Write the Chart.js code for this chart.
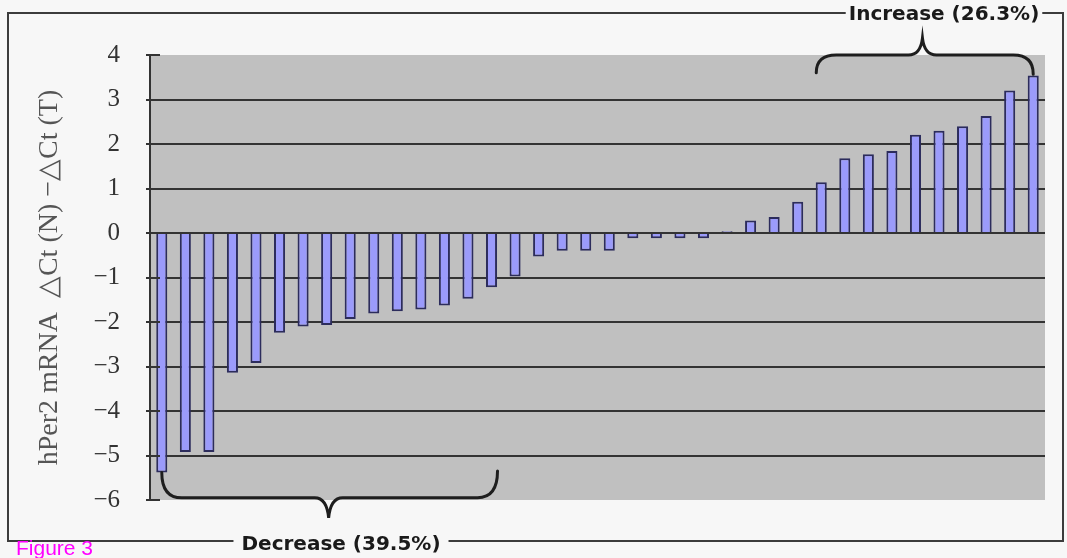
<!DOCTYPE html>
<html>
<head>
<meta charset="utf-8">
<script src="https://cdn.jsdelivr.net/npm/chart.js@4.4.1/dist/chart.umd.min.js"></script>
<style>
  html, body { margin: 0; padding: 0; background: #f7f7f7; }
  #wrap { width: 1067px; height: 558px; }
</style>
</head>
<body>
<div id="wrap"><canvas id="chart"></canvas></div>
<script>
// Sample index (sorted by change)
const samples = Array.from({ length: 38 }, (_, i) => String(i + 1));

// dCt(N) - dCt(T) per sample
const deltaCt = [
  -5.38, -4.92, -4.92, -3.14, -2.92, -2.24, -2.1, -2.07, -1.93, -1.81,
  -1.76, -1.72, -1.63, -1.48, -1.22, -0.98, -0.53, -0.4, -0.4, -0.4,
  -0.12, -0.12, -0.12, -0.12, 0.04, 0.28, 0.36, 0.7, 1.14, 1.68,
  1.77, 1.84, 2.21, 2.3, 2.4, 2.63, 3.2, 3.54,
];

// Axis range / ticks
const yMin = -6;
const yMax = 4;

// Annotation texts
const axisTitle = "hPer2 mRNA  \u25B3Ct (N) \u2212\u25B3Ct (T)";
const increaseLabel = "Increase (26.3%)";
const decreaseLabel = "Decrease (39.5%)";
const figureLabel = "Figure 3";

// Grey plot background
const plotBackground = {
  id: "plotBackground",
  beforeDraw(chart) {
    const { ctx, chartArea } = chart;
    ctx.save();
    ctx.fillStyle = "#c0c0c0";
    ctx.fillRect(chartArea.left, chartArea.top, chartArea.width, chartArea.height);
    ctx.restore();
  },
};

// Draw a curly brace, ends at y1/y2, bar at yLine, point at tip
function drawBrace(ctx, x1, y1, x2, y2, yLine, tipX, tipY) {
  const r = 20;
  ctx.beginPath();
  ctx.moveTo(x1, y1);
  ctx.quadraticCurveTo(x1, yLine, x1 + r, yLine);
  ctx.lineTo(tipX - 14, yLine);
  ctx.quadraticCurveTo(tipX - 2, yLine, tipX, tipY);
  ctx.quadraticCurveTo(tipX + 2, yLine, tipX + 14, yLine);
  ctx.lineTo(x2 - r, yLine);
  ctx.quadraticCurveTo(x2, yLine, x2, y2);
  ctx.stroke();
}

// Frame, braces, inward ticks and labels
const decorations = {
  id: "decorations",
  afterDatasetsDraw(chart) {
    const { ctx, chartArea } = chart;
    const y = chart.scales.y;
    ctx.save();
    ctx.strokeStyle = "#333";
    ctx.lineWidth = 2;
    y.ticks.forEach((t) => {
      const py = Math.round(y.getPixelForValue(t.value));
      ctx.beginPath();
      ctx.moveTo(chartArea.left - 4, py);
      ctx.lineTo(chartArea.left + 10, py);
      ctx.stroke();
    });
    ctx.restore();
  },
  afterDraw(chart) {
    const { ctx } = chart;
    const x = chart.scales.x;
    const y = chart.scales.y;
    ctx.save();

    // braces
    ctx.strokeStyle = "#1e1e1e";
    ctx.lineWidth = 3;
    ctx.lineCap = "round";
    drawBrace(
      ctx,
      x.getPixelForValue(0), y.getPixelForValue(-5.38),
      x.getPixelForValue(14) + 6, y.getPixelForValue(-5.35),
      y.getPixelForValue(-5.95),
      x.getPixelForValue(7) + 2, y.getPixelForValue(-6.4)
    );
    drawBrace(
      ctx,
      x.getPixelForValue(28) - 5, y.getPixelForValue(3.6),
      x.getPixelForValue(37), y.getPixelForValue(3.57),
      y.getPixelForValue(4.0),
      x.getPixelForValue(32) + 7, y.getPixelForValue(4.38)
    );

    // labels
    ctx.font = "bold 20px 'DejaVu Sans'";
    ctx.fillStyle = "#1a1a1a";
    ctx.textBaseline = "middle";
    ctx.textAlign = "center";
    const incX = 944, incY = 15;
    const decX = 341, decY = 545;
    ctx.fillText(increaseLabel, incX, incY);
    ctx.fillText(decreaseLabel, decX, decY);
    const incW = ctx.measureText(increaseLabel).width / 2 + 3;
    const decW = ctx.measureText(decreaseLabel).width / 2 + 8;

    // outer frame with gaps for labels
    ctx.strokeStyle = "#3c3c3c";
    ctx.lineWidth = 2;
    ctx.lineCap = "butt";
    ctx.beginPath();
    ctx.moveTo(incX - incW, 13);
    ctx.lineTo(8, 13);
    ctx.lineTo(8, 541);
    ctx.lineTo(decX - decW, 541);
    ctx.moveTo(decX + decW, 541);
    ctx.lineTo(1063, 541);
    ctx.lineTo(1063, 13);
    ctx.lineTo(incX + incW, 13);
    ctx.stroke();

    ctx.font = "21px 'Liberation Sans'";
    ctx.fillStyle = "#ff00ff";
    ctx.textAlign = "left";
    ctx.textBaseline = "alphabetic";
    ctx.fillText(figureLabel, 16, 555);
    ctx.restore();
  },
};

new Chart(document.getElementById("chart"), {
  type: "bar",
  data: {
    labels: samples,
    datasets: [
      {
        data: deltaCt,
        backgroundColor: "#9b9bfb",
        borderColor: "#2c2c5c",
        borderWidth: 2,
        barPercentage: 0.47,
        categoryPercentage: 1,
      },
    ],
  },
  options: {
    responsive: true,
    maintainAspectRatio: false,
    animation: false,
    layout: { padding: { left: 29, right: 22, top: 55, bottom: 58 } },
    plugins: {
      legend: { display: false },
      tooltip: { enabled: false },
    },
    scales: {
      x: { display: false },
      y: {
        min: yMin,
        max: yMax,
        afterFit(scale) {
          scale.width = 121;
        },
        ticks: {
          stepSize: 1,
          padding: 30,
          color: "#333",
          font: { family: "'Liberation Serif'", size: 25 },
          callback: (v) => String(v).replace("-", "\u2212"),
        },
        grid: {
          drawTicks: false,
          lineWidth: 2,
          color: (c) =>
            c.tick && (c.tick.value === yMin || c.tick.value === yMax)
              ? "rgba(0,0,0,0)"
              : "#333",
        },
        border: { display: true, color: "#333", width: 2 },
        title: {
          display: true,
          text: axisTitle,
          color: "#555",
          font: { family: "'Liberation Serif'", size: 28 },
        },
      },
    },
  },
  plugins: [plotBackground, decorations],
});
</script>
</body>
</html>
